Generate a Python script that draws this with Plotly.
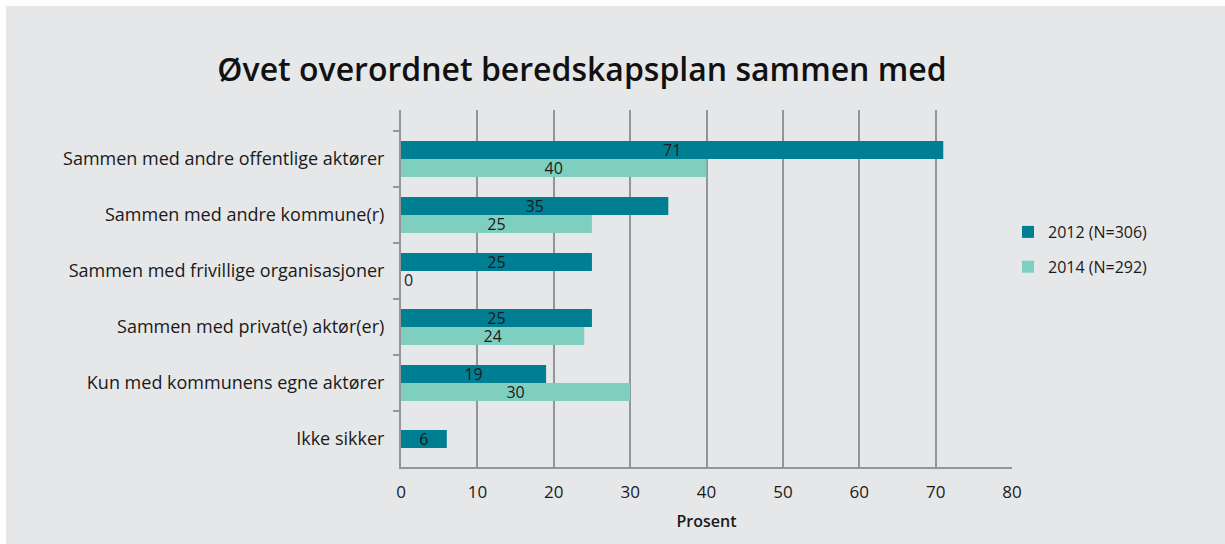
import plotly.graph_objects as go

categories = [
    "Sammen med andre offentlige aktører",
    "Sammen med andre kommune(r)",
    "Sammen med frivillige organisasjoner",
    "Sammen med privat(e) aktør(er)",
    "Kun med kommunens egne aktører",
    "Ikke sikker",
]
series_2012_name = "2012 (N=306)"
series_2014_name = "2014 (N=292)"
values_2012 = [71, 35, 25, 25, 19, 6]
values_2014 = [40, 25, 0, 24, 30, None]
x_ticks = [0, 10, 20, 30, 40, 50, 60, 70, 80]

title_text = "Øvet overordnet beredskapsplan sammen med"
x_title = "Prosent"

# styles
BG = "#e6e7e9"
C2012 = "#007f93"
C2014 = "#7fcfc0"
GRID = "#939598"
FONT = "Open Sans"
BAR_W = 0.32

W, H = 1225, 544
L, R, T, B = 401, 213, 110, 77
PW, PH = W - L - R, H - T - B


def txt(vals):
    return ["" if v is None else str(v) for v in vals]


def tpos(vals):
    return ["outside" if v == 0 else "inside" for v in vals]


# 2012 bars are centred where there is no 2014 value
offs_2012 = [-BAR_W / 2 if b is None else -BAR_W for b in values_2014]

label_font = dict(family=FONT, size=16, color="#1a1a1a")

fig = go.Figure()
fig.add_trace(go.Bar(
    name=series_2012_name, y=categories, x=values_2012, orientation="h",
    marker=dict(color=C2012, line=dict(width=0)),
    text=txt(values_2012), textposition=tpos(values_2012), textangle=0,
    insidetextanchor="middle", constraintext="none",
    textfont=label_font, outsidetextfont=label_font,
    width=[BAR_W] * len(categories), offset=offs_2012,
    legendgroup="a", cliponaxis=False,
))
fig.add_trace(go.Bar(
    name=series_2014_name, y=categories, x=values_2014, orientation="h",
    marker=dict(color=C2014, line=dict(width=0)),
    text=txt(values_2014), textposition=tpos(values_2014), textangle=0,
    insidetextanchor="middle", constraintext="none",
    textfont=label_font, outsidetextfont=label_font,
    width=[BAR_W] * len(categories), offset=[0] * len(categories),
    legendgroup="b", cliponaxis=False,
))

fig.update_layout(
    width=W, height=H,
    margin=dict(l=L, r=R, t=T, b=B, autoexpand=False),
    paper_bgcolor="white",
    plot_bgcolor=BG,
    barmode="group",
    title=dict(text=title_text, x=582 / W, xanchor="center",
               y=1 - 70 / H, yanchor="middle", yref="container",
               font=dict(family=FONT, size=32, color="#111111", weight=600)),
    font=dict(family=FONT, size=17, color="#1a1a1a"),
    legend=dict(x=(1008 - L) / PW, xanchor="left",
                y=1 - (215 - T) / PH, yanchor="top",
                font=dict(family=FONT, size=16, color="#1a1a1a"),
                tracegroupgap=11, bgcolor="rgba(0,0,0,0)", itemwidth=30),
    xaxis=dict(range=[0, 80], tickvals=x_ticks, showgrid=True,
               gridcolor=GRID, gridwidth=2, zeroline=False,
               showline=True, linecolor=GRID, linewidth=2,
               ticks="", ticklabelstandoff=9,
               tickfont=dict(family=FONT, size=17, color="#1a1a1a"),
               title=dict(text=x_title, standoff=13,
                          font=dict(family=FONT, size=16, color="#1a1a1a", weight=600))),
    yaxis=dict(type="category", categoryorder="array", categoryarray=categories,
               range=[len(categories) - 0.5, -0.875],
               showgrid=False, zeroline=False,
               showline=True, linecolor=GRID, linewidth=2,
               ticks="outside", ticklen=6, tickwidth=2, tickcolor=GRID,
               tickson="boundaries", ticklabelstandoff=11,
               tickfont=dict(family=FONT, size=18, color="#1a1a1a")),
    shapes=[
        dict(type="rect", xref="paper", yref="paper",
             x0=(6 - L) / PW, x1=(W - L) / PW,
             y0=-B / PH - 0.01, y1=1 + (T - 6) / PH,
             fillcolor=BG, line=dict(width=0), layer="below"),
    ],
)

fig.write_html("out.html", config={"displayModeBar": False},
               post_script="document.body.style.margin='0px';document.body.style.padding='0px';")
